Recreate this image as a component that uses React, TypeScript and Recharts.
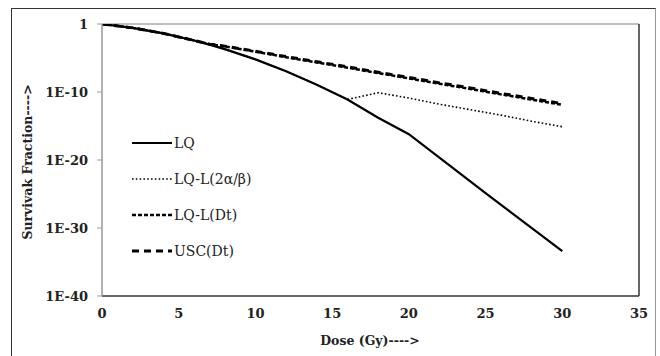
import { LineChart, Line, XAxis, YAxis, ReferenceLine } from 'recharts'

const DOSE = [0, 2, 4, 6, 7, 8, 10, 12, 14, 16, 18, 20, 22, 24, 25, 26, 28, 30]

const LQ = [1, 2.7e-1, 4.2e-2, 3.8e-3, 9.3e-4, 2.0e-4, 6.3e-6, 1.1e-7, 1.2e-9, 7.9e-12, 1.6e-14, 6.3e-17, null, null, 1.3e-25, null, null, 4.0e-34]
const LQ_L_2AB = [1, 2.7e-1, 4.2e-2, 3.8e-3, 9.3e-4, 2.0e-4, 6.3e-6, 1.1e-7, 1.2e-9, 7.9e-12, 7.9e-11, 1.3e-11, 1.6e-12, 2.5e-13, null, 4.0e-14, 5.0e-15, 7.9e-16]
const LQ_L_DT = [1, 2.7e-1, 4.2e-2, 3.8e-3, 1.1e-3, 5.0e-4, 8.5e-5, 1.3e-5, 2.2e-6, 3.8e-7, 6.0e-8, 1.0e-8, 1.6e-9, 2.8e-10, null, 4.5e-11, 7.5e-12, 1.3e-12]
const USC_DT = [1, 2.7e-1, 4.2e-2, 3.8e-3, 1.1e-3, 5.6e-4, 1.0e-4, 1.6e-5, 2.8e-6, 5.0e-7, 7.9e-8, 1.4e-8, 2.2e-9, 4.0e-10, null, 6.3e-11, 1.1e-11, 2.0e-12]

const X_TICKS = [0, 5, 10, 15, 20, 25, 30, 35]
const Y_TICKS = [1e-40, 1e-30, 1e-20, 1e-10, 1]

const SERIES = [
  { key: 'usc', name: 'USC(Dt)', width: 3, dash: '7 5' },
  { key: 'lqlDt', name: 'LQ-L(Dt)', width: 2.5, dash: '4 2' },
  { key: 'lql2ab', name: 'LQ-L(2α/β)', width: 1.6, dash: '1.6 2.2' },
  { key: 'lq', name: 'LQ', width: 2.2, dash: undefined },
]
const LEGEND_ORDER = ['lq', 'lql2ab', 'lqlDt', 'usc']

const data = DOSE.map((d, i) => ({
  dose: d,
  lq: LQ[i],
  lql2ab: LQ_L_2AB[i],
  lqlDt: LQ_L_DT[i],
  usc: USC_DT[i],
}))

const FONT = '"DejaVu Serif", serif'

const fmtY = (v: number) => (v >= 1 ? '1' : `1E-${Math.round(-Math.log10(v))}`)

export default function App() {
  return (
    <div style={{ position: 'absolute', left: 0, top: 0, width: 660, height: 356, background: '#fff', overflow: 'hidden', fontFamily: FONT }}>
      {/* outer frame */}
      <div
        style={{
          position: 'absolute', left: 11, top: 8, width: 643, height: 360,
          borderLeft: '1.5px solid #333', borderTop: '1.5px solid #333', borderRight: '1.5px solid #999',
        }}
      />
      <LineChart
        width={660}
        height={356}
        data={data}
        margin={{ top: 24, right: 21, bottom: 0, left: 0 }}
        style={{ position: 'absolute', left: 0, top: 0 }}
      >
        <XAxis
          dataKey="dose"
          type="number"
          domain={[0, 35]}
          ticks={X_TICKS}
          tickLine={false}
          tickSize={0}
          tickMargin={13}
          axisLine={{ stroke: '#333', strokeWidth: 1.5 }}
          tick={{ fill: '#222', fontSize: 13, fontWeight: 'bold', fontFamily: FONT }}
          height={60}
        />
        <YAxis
          type="number"
          scale="log"
          domain={[1e-40, 1]}
          allowDataOverflow
          ticks={Y_TICKS}
          tickFormatter={fmtY}
          width={102}
          tickSize={5}
          tickMargin={9}
          tickLine={{ stroke: '#999' }}
          axisLine={{ stroke: '#999', strokeWidth: 1.5 }}
          tick={{ fill: '#222', fontSize: 13, fontWeight: 'bold', fontFamily: FONT }}
        />
        <ReferenceLine y={1} stroke="#aaa" strokeWidth={1.5} />
        <ReferenceLine x={35} stroke="#333" strokeWidth={1.5} />
        {SERIES.map((s) => (
          <Line
            key={s.key}
            dataKey={s.key}
            name={s.name}
            type="linear"
            stroke="#000"
            strokeWidth={s.width}
            strokeDasharray={s.dash}
            dot={false}
            activeDot={false}
            connectNulls
            isAnimationActive={false}
          />
        ))}
      </LineChart>

      {/* legend */}
      <div style={{ position: 'absolute', left: 132, top: 125 }}>
        {LEGEND_ORDER.map((k) => {
          const s = SERIES.find((x) => x.key === k)!
          return (
            <div key={k} style={{ display: 'flex', alignItems: 'center', height: 36 }}>
              <svg width={40} height={10}>
                <line x1={0} y1={5} x2={40} y2={5} stroke="#000" strokeWidth={s.width} strokeDasharray={s.dash} />
              </svg>
              <span style={{ fontSize: 14, color: '#222', marginLeft: 2, lineHeight: '16px' }}>{s.name}</span>
            </div>
          )
        })}
      </div>

      {/* axis titles */}
      <div
        style={{
          position: 'absolute', left: 27, top: 162, transform: 'translate(-50%, -50%) rotate(-90deg)',
          whiteSpace: 'nowrap', fontSize: 12.5, fontWeight: 'bold', color: '#222',
        }}
      >
        Survivak Fraction----&gt;
      </div>
      <div
        style={{
          position: 'absolute', left: 370, top: 340, transform: 'translate(-50%, -50%)',
          whiteSpace: 'nowrap', fontSize: 12.5, fontWeight: 'bold', color: '#222',
        }}
      >
        Dose (Gy)----&gt;
      </div>
    </div>
  )
}
